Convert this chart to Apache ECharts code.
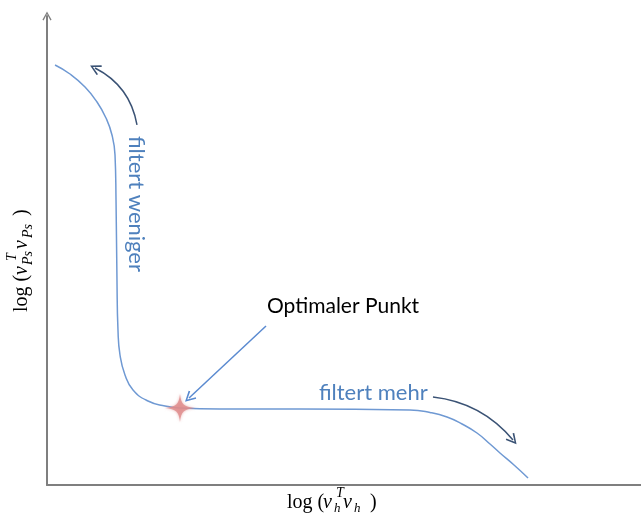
<!DOCTYPE html>
<html>
<head>
<meta charset="utf-8">
<script src="https://cdn.jsdelivr.net/npm/echarts@6/dist/echarts.min.js"></script>
<style>
  html, body { margin: 0; padding: 0; background: #fff; }
  #chart { width: 641px; height: 517px; }
</style>
</head>
<body>
<div id="chart"></div>
<script>
// L-curve: log residual norm against log solution norm (arbitrary log units, 0..100)
const curveX = [1.35, 3.87, 6.40, 8.42, 9.93, 10.94, 11.45, 11.62, 11.78, 11.95, 12.29, 13.13, 14.48, 17.00, 19.87, 22.39, 29.12, 42.59, 61.11, 64.48, 67.34, 69.87, 72.39, 74.58, 76.26, 78.62, 80.98];
const curveY = [89.55, 87.63, 84.86, 81.66, 78.25, 74.63, 70.36, 60.77, 43.71, 33.05, 27.72, 23.45, 20.26, 17.91, 16.84, 16.42, 16.20, 16.20, 15.99, 15.46, 14.50, 13.01, 11.09, 8.74, 6.82, 4.26, 1.49];

// corner of the L (optimal regularisation)
const optimumPoint = [22.39, 16.42];

// annotation arrows: [start, end] in data units
const arrowLess = [[15.15, 76.76], [8.08, 88.91]];
const arrowMore = [[64.98, 18.76], [78.45, 9.59]];
const arrowOptimum = [[36.87, 33.90], [23.91, 18.55]];

// annotation texts
const textLess = 'filtert weniger';
const textMore = 'filtert mehr';
const textOptimum = 'Optimaler Punkt';

const axisColor = '#7f7f7f';
const curveColor = '#6f99d3';
const labelBlue = '#4f81bd';
const arrowDark = '#3b5375';
const openHead = 'path://M0,9 L5,0 L10,9 L8.7,9.8 L5,2.8 L1.3,9.8 Z';
const serif = '"Liberation Serif", "DejaVu Serif", serif';
const sans = 'Lato, "Open Sans", sans-serif';

const chart = echarts.init(document.getElementById('chart'), null, { renderer: 'canvas' });

function piece(text, x, y, size, italic) {
  return {
    type: 'text',
    x: x, y: y,
    style: {
      text: text,
      font: (italic ? 'italic ' : '') + size + 'px ' + serif,
      fill: '#000',
      align: 'left',
      verticalAlign: 'middle'
    }
  };
}

// log (v_h^T v_h)
const xTitle = {
  type: 'group', x: 287, y: 503,
  children: [
    piece('log (', 0, 0, 20, false),
    piece('v', 36, 0, 20, true),
    piece('T', 49, -10, 14, true),
    piece('h', 47, 6, 13, true),
    piece('v', 56, 0, 20, true),
    piece('h', 67, 6, 13, true),
    piece(')', 83, 0, 20, false)
  ]
};

// log (v_Ps^T v_Ps)
const yTitle = {
  type: 'group', x: 22, y: 312, rotation: Math.PI / 2,
  children: [
    piece('log (', 0, 0, 20, false),
    piece('v', 37, 0, 20, true),
    piece('T', 51, -10, 14, true),
    piece('Ps', 47, 6, 14, true),
    piece('v', 63, 0, 20, true),
    piece('Ps', 74, 6, 14, true),
    piece(')', 96, 0, 20, false)
  ]
};

const option = {
  animation: false,
  backgroundColor: '#ffffff',
  grid: { left: 47, right: 0, top: 16, bottom: 32, containLabel: false },
  xAxis: {
    type: 'value', min: 0, max: 100,
    axisLine: { show: true, lineStyle: { color: axisColor, width: 2 } },
    axisTick: { show: false }, axisLabel: { show: false }, splitLine: { show: false }
  },
  yAxis: {
    type: 'value', min: 0, max: 100,
    axisLine: {
      show: true, onZero: false,
      symbol: ['none', openHead], symbolSize: [12, 9],
      lineStyle: { color: axisColor, width: 2 }
    },
    axisTick: { show: false }, axisLabel: { show: false }, splitLine: { show: false }
  },
  series: [
    {
      type: 'line',
      data: curveX.map((x, i) => [x, curveY[i]]),
      smooth: 0.5,
      showSymbol: false,
      lineStyle: { color: curveColor, width: 1.5 },
      z: 2
    },
    {
      type: 'lines',
      coordinateSystem: 'cartesian2d',
      symbol: ['none', openHead],
      symbolSize: 11,
      data: [
        { coords: arrowLess, lineStyle: { curveness: -0.25 } },
        { coords: arrowMore, lineStyle: { curveness: 0.2 } }
      ],
      lineStyle: { color: arrowDark, width: 1.5, opacity: 1 },
      z: 3
    },
    {
      type: 'lines',
      coordinateSystem: 'cartesian2d',
      symbol: ['none', openHead],
      symbolSize: 11,
      data: [{ coords: arrowOptimum }],
      lineStyle: { color: '#5a8ad0', width: 1.5, opacity: 1, curveness: 0 },
      z: 3
    },
    {
      type: 'scatter',
      data: [optimumPoint],
      symbol: 'path://M0,-10 C0.8,-2.5 2.5,-0.8 10,0 C2.5,0.8 0.8,2.5 0,10 C-0.8,2.5 -2.5,0.8 -10,0 C-2.5,-0.8 -0.8,-2.5 0,-10 Z',
      symbolSize: [30, 28],
      itemStyle: { color: '#df8b8b', shadowColor: 'rgba(223,139,139,0.8)', shadowBlur: 3 },
      z: 4
    }
  ],
  graphic: [
    xTitle,
    yTitle,
    {
      type: 'text', x: 136, y: 204, rotation: -Math.PI / 2,
      style: { text: textLess, font: '22px ' + sans, fill: labelBlue, align: 'center', verticalAlign: 'middle' }
    },
    {
      type: 'text', x: 319, y: 393,
      style: { text: textMore, font: '22px ' + sans, fill: labelBlue, align: 'left', verticalAlign: 'middle' }
    },
    {
      type: 'text', x: 267, y: 306,
      style: { text: textOptimum, font: '21px ' + sans, fill: '#000', align: 'left', verticalAlign: 'middle' }
    }
  ]
};

chart.setOption(option);
</script>
</body>
</html>
